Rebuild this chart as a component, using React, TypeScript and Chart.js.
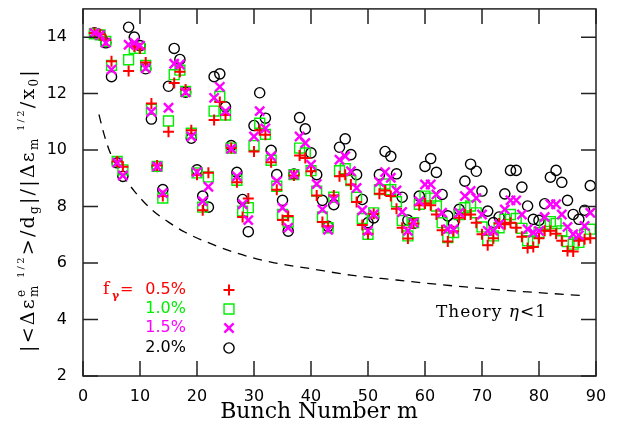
import React, { useEffect, useRef } from "react";
import { Chart, registerables } from "chart.js";

Chart.register(...registerables);

const bunch = [2,3,4,5,6,7,8,9,10,11,12,13,14,15,16,17,18,19,20,21,22,23,24,25,26,27,28,29,30,31,32,33,34,35,36,37,38,39,40,41,42,43,44,45,46,47,48,49,50,51,52,53,54,55,56,57,58,59,60,61,62,63,64,65,66,67,68,69,70,71,72,73,74,75,76,77,78,79,80,81,82,83,84,85,86,87,88,89];

const f05 = [14.15,14.1,13.9,13.15,9.6,9.41,12.8,13.67,13.6,13.1,11.65,9.45,8.37,10.65,12.38,12.77,12.15,10.7,9.13,7.87,9.2,11.07,11.7,11.24,10.07,8.86,7.63,8.29,9.95,10.7,10.54,9.57,8.6,7.52,7.67,9.1,9.81,9.72,9.25,8.39,7.45,7.3,8.39,9.07,9.13,8.78,8.16,7.35,7.04,7.75,8.45,8.57,8.37,7.92,7.25,6.87,7.4,8.05,8.11,8.05,7.72,7.16,6.76,7.13,7.6,7.72,7.72,7.43,7.02,6.63,6.88,7.4,7.37,7.43,7.25,6.93,6.53,6.57,6.88,7.14,7.14,7.04,6.79,6.43,6.41,6.79,6.84,6.88];

const f10 = [14.12,14.08,13.85,13.0,9.6,9.3,13.2,13.6,13.6,13.0,11.45,9.42,8.3,11.03,12.67,12.83,12.08,10.6,9.19,7.98,9.05,11.38,11.9,11.24,10.07,8.93,7.84,7.96,10.16,10.95,10.56,9.64,8.72,7.72,7.45,9.13,10.07,9.9,9.27,8.55,7.63,7.25,8.33,9.27,9.34,8.92,8.33,7.58,7.02,7.78,8.6,8.8,8.6,8.17,7.51,6.96,7.43,8.08,8.37,8.3,8.02,7.43,6.9,7.08,7.72,7.96,8.02,7.78,7.28,6.81,6.96,7.25,7.55,7.72,7.58,7.23,6.79,6.76,7.08,7.37,7.47,7.4,7.14,6.76,6.67,6.73,7.02,7.2];

const f15 = [14.15,14.08,13.8,12.85,9.55,9.1,13.73,13.8,13.7,12.9,11.36,9.42,8.48,11.5,13.06,13.03,12.05,10.48,9.22,8.19,8.7,11.85,12.24,11.38,10.05,9.07,8.08,7.52,10.48,11.38,10.77,9.78,8.9,7.96,7.25,9.13,10.48,10.25,9.48,8.8,7.9,7.18,8.25,9.66,9.78,9.25,8.66,7.87,7.14,7.72,8.87,9.22,9.02,8.57,7.81,7.14,7.43,8.19,8.78,8.78,8.43,7.78,7.2,7.2,7.78,8.37,8.55,8.3,7.72,7.14,7.14,7.37,7.9,8.22,8.22,7.72,7.2,7.08,7.14,7.63,8.08,8.08,7.72,7.28,7.02,6.98,7.31,7.78];

const f20 = [14.15,14.08,13.8,12.6,9.55,9.07,14.35,14.0,13.7,12.88,11.1,9.42,8.6,12.26,13.6,13.21,12.05,10.42,9.3,8.37,7.98,12.6,12.7,11.53,10.16,9.21,8.25,7.11,10.87,12.03,11.13,9.99,9.13,8.22,7.13,9.15,11.15,10.75,9.9,9.13,8.22,7.3,8.07,10.1,10.4,9.84,9.13,8.25,7.43,7.6,9.13,9.95,9.78,9.16,8.33,7.52,7.4,8.37,9.42,9.7,9.21,8.43,7.67,7.4,7.9,8.9,9.5,9.25,8.55,7.84,7.43,7.63,8.45,9.28,9.28,8.69,8.02,7.55,7.51,8.1,9.04,9.28,8.86,8.22,7.72,7.55,7.87,8.74];

const theoryM = [2.8,3.5,4.5,5.5,7,9,12,15,18,22,27,33,40,47,55,63,72,80,87.5];
const theoryY = [11.26,10.7,10.05,9.6,9.1,8.55,7.9,7.45,7.08,6.72,6.35,6.03,5.8,5.57,5.4,5.23,5.07,4.95,4.85];

const xTicks = [0,10,20,30,40,50,60,70,80,90];
const yTicks = [2,4,6,8,10,12,14];

const legendLabels = ["0.5%", "1.0%", "1.5%", "2.0%"];
const seriesColors = ["#ff0000", "#00ee00", "#ff00ff", "#000000"];

const pts = (ys: number[]) => bunch.map((m, i) => ({ x: m, y: ys[i] }));

const markerStyles = [
  { pointStyle: "cross", radius: 5.5, borderWidth: 2 },
  { pointStyle: "rect", radius: 7, borderWidth: 1.4 },
  { pointStyle: "crossRot", radius: 6.5, borderWidth: 2.4 },
  { pointStyle: "circle", radius: 5.1, borderWidth: 1.4 },
];

const framePlugin = {
  id: "framePlugin",
  afterDraw(chart: any) {
    const ctx = chart.ctx as CanvasRenderingContext2D;
    const { left, right, top, bottom } = chart.chartArea;
    const xs = chart.scales.x;
    const ys = chart.scales.y;
    ctx.save();
    ctx.strokeStyle = "#222";
    ctx.lineWidth = 1.5;
    ctx.strokeRect(left, top, right - left, bottom - top);
    const tl = 15;
    ctx.beginPath();
    xTicks.forEach((v) => {
      const px = xs.getPixelForValue(v);
      ctx.moveTo(px, bottom);
      ctx.lineTo(px, bottom - tl);
      ctx.moveTo(px, top);
      ctx.lineTo(px, top + tl);
    });
    yTicks.forEach((v) => {
      const py = ys.getPixelForValue(v);
      ctx.moveTo(left, py);
      ctx.lineTo(left + tl, py);
      ctx.moveTo(right, py);
      ctx.lineTo(right - tl, py);
    });
    ctx.stroke();

    // x title
    ctx.fillStyle = "#000";
    ctx.font = '22px "DejaVu Serif"';
    ctx.textAlign = "center";
    ctx.textBaseline = "middle";
    ctx.fillText("Bunch Number m", 319, 412);

    // y title
    const B = '19px "DejaVu Serif"';
    const S = '12px "DejaVu Serif"';
    const T = '10px "DejaVu Serif"';
    type Part = { t: string; f: string; dy: number };
    const segs: Part[][] = [
      [{ t: "|<Δε", f: B, dy: 0 }],
      [{ t: "e", f: S, dy: -9 }, { t: "m", f: S, dy: 4 }],
      [{ t: " 1/2", f: T, dy: -10 }],
      [{ t: ">/d", f: B, dy: 0 }],
      [{ t: "g", f: S, dy: 4 }],
      [{ t: "|/|Δε", f: B, dy: 0 }],
      [{ t: "m", f: S, dy: 4 }],
      [{ t: " 1/2", f: T, dy: -10 }],
      [{ t: "/x", f: B, dy: 0 }],
      [{ t: "0", f: S, dy: 4 }],
      [{ t: "|", f: B, dy: 0 }],
    ];
    let natural = 0;
    let nchars = 0;
    const widths = segs.map((g) => {
      let w = 0;
      let n = 0;
      g.forEach((p) => {
        ctx.font = p.f;
        w = Math.max(w, ctx.measureText(p.t).width);
        n = Math.max(n, p.t.length);
      });
      natural += w;
      nchars += n;
      return { w, n };
    });
    const target = 284;
    const sp = Math.max(0, (target - natural) / nchars);
    ctx.translate(34, 210);
    ctx.rotate(-Math.PI / 2);
    ctx.textAlign = "left";
    ctx.textBaseline = "alphabetic";
    let x = -target / 2;
    segs.forEach((g, i) => {
      g.forEach((p) => {
        ctx.font = p.f;
        let cx = x;
        for (const ch of p.t) {
          ctx.fillText(ch, cx, p.dy);
          cx += ctx.measureText(ch).width + sp;
        }
      });
      x += widths[i].w + widths[i].n * sp;
    });
    ctx.restore();

    // legend
    ctx.save();
    const rows = [290, 309, 328, 348];
    ctx.textBaseline = "middle";
    ctx.font = '17px "DejaVu Serif"';
    ctx.fillStyle = seriesColors[0];
    ctx.textAlign = "left";
    ctx.fillText("f", 103, rows[0]);
    ctx.font = 'bold 11px "DejaVu Serif"';
    ctx.fillText("γ", 112, rows[0] + 6);
    ctx.font = '16px "DejaVu Sans"';
    ctx.fillText("=", 120, rows[0]);
    legendLabels.forEach((lab, i) => {
      ctx.fillStyle = seriesColors[i];
      ctx.textAlign = "right";
      ctx.font = '16px "DejaVu Sans"';
      ctx.fillText(lab, 186, rows[i]);
      const ms = markerStyles[i];
      ctx.strokeStyle = seriesColors[i];
      ctx.lineWidth = ms.borderWidth;
      const cx = 229;
      const cy = rows[i];
      ctx.beginPath();
      if (ms.pointStyle === "cross") {
        ctx.moveTo(cx - ms.radius, cy);
        ctx.lineTo(cx + ms.radius, cy);
        ctx.moveTo(cx, cy - ms.radius);
        ctx.lineTo(cx, cy + ms.radius);
      } else if (ms.pointStyle === "rect") {
        const s = ms.radius * Math.SQRT1_2;
        ctx.rect(cx - s, cy - s, 2 * s, 2 * s);
      } else if (ms.pointStyle === "crossRot") {
        const s = ms.radius * Math.SQRT1_2;
        ctx.moveTo(cx - s, cy - s);
        ctx.lineTo(cx + s, cy + s);
        ctx.moveTo(cx - s, cy + s);
        ctx.lineTo(cx + s, cy - s);
      } else {
        ctx.arc(cx, cy, ms.radius, 0, Math.PI * 2);
      }
      ctx.stroke();
    });

    // theory label
    ctx.fillStyle = "#000";
    ctx.textAlign = "left";
    ctx.font = '17px "DejaVu Serif"';
    (ctx as any).letterSpacing = "1px";
    ctx.fillText("Theory ", 436, 313);
    const w1 = ctx.measureText("Theory ").width;
    ctx.font = 'italic 17px "DejaVu Serif"';
    ctx.fillText("η", 436 + w1, 313);
    const w2 = ctx.measureText("η").width;
    ctx.font = '17px "DejaVu Serif"';
    ctx.fillText("<1", 436 + w1 + w2, 313);
    (ctx as any).letterSpacing = "0px";
    ctx.restore();
  },
};

export default function App() {
  const ref = useRef<HTMLCanvasElement>(null);
  useEffect(() => {
    if (!ref.current) return;
    const series = [f05, f10, f15, f20];
    const orders = [2, 3, 1, 4];
    const datasets: any[] = series.map((ys, i) => ({
      type: "scatter",
      label: legendLabels[i],
      data: pts(ys),
      pointStyle: markerStyles[i].pointStyle,
      pointRadius: markerStyles[i].radius,
      pointBorderWidth: markerStyles[i].borderWidth,
      borderColor: seriesColors[i],
      backgroundColor: "rgba(0,0,0,0)",
      pointBackgroundColor: "rgba(0,0,0,0)",
      pointBorderColor: seriesColors[i],
      showLine: false,
      order: orders[i],
    }));
    datasets.push({
      type: "line",
      label: "Theory",
      data: theoryM.map((m, i) => ({ x: m, y: theoryY[i] })),
      borderColor: "#000",
      borderWidth: 1.3,
      borderDash: [9, 7],
      pointRadius: 0,
      fill: false,
      tension: 0.4,
      cubicInterpolationMode: "monotone",
      order: 10,
    });
    const chart = new Chart(ref.current, {
      type: "scatter",
      data: { datasets },
      options: {
        responsive: false,
        animation: false,
        layout: { padding: { left: 0, right: 25, top: 6, bottom: 0 } },
        plugins: { legend: { display: false }, tooltip: { enabled: false } },
        scales: {
          x: {
            type: "linear",
            min: 0,
            max: 90,
            grid: { display: false },
            border: { display: false },
            afterBuildTicks: (s: any) => {
              s.ticks = xTicks.map((v) => ({ value: v }));
            },
            afterFit: (s: any) => {
              s.height = 53;
              s.paddingLeft = 0;
              s.paddingRight = 0;
            },
            ticks: {
              color: "#000",
              padding: 3,
              maxRotation: 0,
              autoSkip: false,
              font: { family: "DejaVu Sans", size: 16 },
            },
          },
          y: {
            type: "linear",
            min: 2,
            max: 15,
            grid: { display: false },
            border: { display: false },
            afterBuildTicks: (s: any) => {
              s.ticks = yTicks.map((v) => ({ value: v }));
            },
            afterFit: (s: any) => {
              s.width = 83;
              s.paddingTop = 0;
              s.paddingBottom = 0;
            },
            ticks: {
              color: "#000",
              padding: 8,
              autoSkip: false,
              font: { family: "DejaVu Sans", size: 16 },
            },
          },
        },
      } as any,
      plugins: [framePlugin],
    } as any);
    return () => chart.destroy();
  }, []);
  return (
    <div style={{ position: "absolute", left: 0, top: 0, width: 621, height: 429, background: "#fff" }}>
      <canvas ref={ref} width={621} height={429} style={{ display: "block", width: 621, height: 429 }} />
    </div>
  );
}
